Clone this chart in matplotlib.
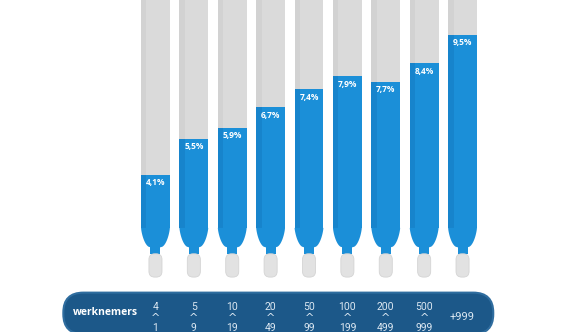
import matplotlib
matplotlib.use("Agg")
from matplotlib import pyplot as plt
from matplotlib.patches import FancyBboxPatch, Polygon
import numpy as np

# percentages per company size
values = [4.1, 5.5, 5.9, 6.7, 7.4, 7.9, 7.7, 8.4, 9.5]
labels = ["4,1%", "5,5%", "5,9%", "6,7%", "7,4%", "7,9%", "7,7%", "8,4%", "9,5%"]
size_hi = ["4", "5", "10", "20", "50", "100", "200", "500", ""]
size_lo = ["1", "9", "19", "49", "99", "199", "499", "999", ""]
size_single = ["", "", "", "", "", "", "", "", "+999"]
axis_title = "werknemers"

blue = "#1b8fd8"
blue_dark = "#1784cc"
grey = "#dadada"
grey_dark = "#d2d2d2"
navy = "#1c5889"

fig = plt.figure(figsize=(5.8, 3.32), dpi=100)
ax = fig.add_axes([0, 0, 1, 1])
ax.set_xlim(-4.05, 11.06)
ax.set_ylim(-1.97, 10.85)
ax.axis("off")

x = np.arange(len(values))
w = 0.75
base = 2.05     # where the tube starts tapering
neck = 1.3
neck_w = 0.26
tip_top = 1.05
tip_bot = 0.15
tip_w = 0.34

# grey tube (empty part)
ax.bar(x, 12 - base, bottom=base, width=w, color=grey, zorder=1)
ax.bar(x - w / 2 + 0.07, 12 - base, bottom=base, width=0.14, color=grey_dark, zorder=1)

# blue filled part
ax.bar(x, np.array(values) - base + 0.02, bottom=base - 0.02, width=w, color=blue, zorder=2)
ax.bar(x - w / 2 + 0.07, np.array(values) - base, bottom=base, width=0.14,
       color=blue_dark, zorder=2)

for xi in x:
    # rounded shoulder of the tube
    t = np.linspace(0, 1, 30)
    half = neck_w / 2 + (w / 2 - neck_w / 2) * np.sqrt(1 - t ** 1.4)
    ys = base - (base - neck) * t
    pts = list(zip(xi - half, ys)) + list(zip(xi + half[::-1], ys[::-1]))
    ax.add_patch(Polygon(pts, closed=True, color=blue, lw=0, zorder=2))
    ax.bar(xi, neck - tip_top + 0.05, bottom=tip_top - 0.02, width=neck_w,
           color=blue, zorder=2)
    # white/grey tip
    ax.add_patch(FancyBboxPatch((xi - tip_w / 2, tip_bot), tip_w, tip_top - tip_bot,
                                boxstyle="round,pad=0,rounding_size=0.15",
                                mutation_aspect=1.48, fc="#e2e2e2", ec="#d4d4d4",
                                lw=0.6, zorder=2))

for xi, v, lab in zip(x, values, labels):
    ax.text(xi, v - 0.3, lab, ha="center", va="center", color="white",
            fontsize=6, fontweight="bold", family="Open Sans", zorder=3)

# bottom banner
ax.add_patch(FancyBboxPatch((-2.4, -2.05), 11.2, 1.6,
                            boxstyle="round,pad=0,rounding_size=0.52",
                            mutation_aspect=1.48, fc=navy, ec="#2f6d9f",
                            lw=1.5, zorder=1))
ax.text(-1.3, -1.23, axis_title, ha="center", va="center", color="white",
        fontsize=7.5, fontweight="bold", family="Open Sans")
for xi, hi, lo, single in zip(x, size_hi, size_lo, size_single):
    if single:
        ax.text(xi, -1.38, single, ha="center", va="center", color="#dce8f2",
                fontsize=8, family="Roboto")
        continue
    ax.text(xi, -1.02, hi, ha="center", va="center", color="#dce8f2",
            fontsize=7.5, family="Roboto")
    ax.text(xi, -1.42, "^", ha="center", va="center", color="#dce8f2",
            fontsize=8, family="DejaVu Sans")
    ax.text(xi, -1.8, lo, ha="center", va="center", color="#dce8f2",
            fontsize=7.5, family="Roboto")

fig.savefig("out.png", dpi=100)
